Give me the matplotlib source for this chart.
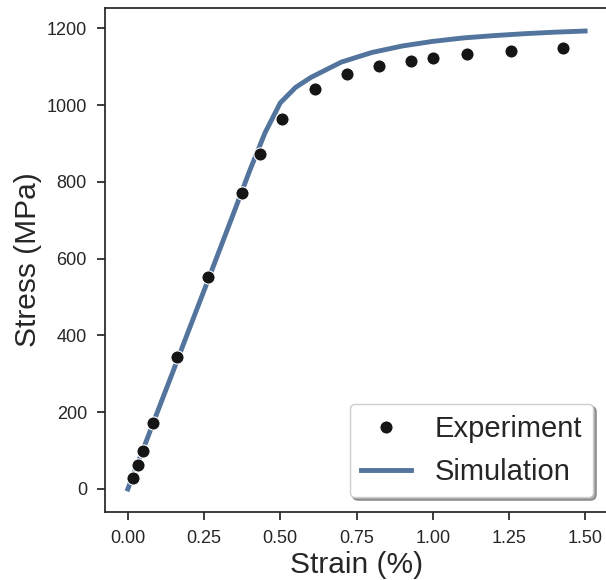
import matplotlib
matplotlib.use("Agg")
import matplotlib.pyplot as plt

plt.rcParams['font.family'] = ['Liberation Sans', 'DejaVu Sans']

# experimental points (strain %, stress MPa)
exp_strain = [0.017, 0.034, 0.050, 0.081, 0.161, 0.263, 0.376, 0.434, 0.505,
              0.614, 0.719, 0.823, 0.929, 1.001, 1.113, 1.256, 1.429]
exp_stress = [29, 63, 100, 171, 343, 551, 772, 872, 964,
              1042, 1081, 1102, 1116, 1123, 1134, 1141, 1148]

# simulation curve
sim_strain = [0.0, 0.05, 0.1, 0.15, 0.2, 0.25, 0.3, 0.35, 0.4, 0.45, 0.5,
              0.55, 0.6, 0.7, 0.8, 0.9, 1.0, 1.1, 1.2, 1.3, 1.4, 1.5]
sim_stress = [0, 103, 207, 310, 414, 517, 621, 725, 830, 928, 1006,
              1046, 1072, 1112, 1137, 1154, 1166, 1175, 1181, 1186, 1190, 1193]

dark = '#262626'

fig = plt.figure(figsize=(6.06, 5.8), dpi=100)
ax = fig.add_axes([105/606, 68/580, 503/606, 504/580])

ax.plot(exp_strain, exp_stress, 'o', color='#151515', markersize=9.5,
        markeredgecolor='white', markeredgewidth=0.8, label='Experiment', zorder=3)
ax.plot(sim_strain, sim_stress, '-', color='#52749d', linewidth=3.5,
        label='Simulation', zorder=2)

ax.set_xticks([0.0, 0.25, 0.5, 0.75, 1.0, 1.25, 1.5])
ax.set_yticks([0, 200, 400, 600, 800, 1000, 1200])
ax.set_xlim(-0.075, 1.575)
ax.set_ylim(-60, 1253)

for s in ax.spines.values():
    s.set_color(dark)
    s.set_linewidth(1.25)
ax.tick_params(direction='out', length=6, width=1.25, color=dark,
               labelcolor=dark, labelsize=13, pad=7)

ax.set_xlabel('Strain (%)', fontsize=21.5, color=dark, labelpad=3)
ax.set_ylabel('Stress (MPa)', fontsize=21.5, color=dark, labelpad=3)

leg = ax.legend(loc='lower right', fontsize=21, shadow=True, fancybox=True,
                handlelength=1.7, borderaxespad=0.5, framealpha=1)
leg.get_frame().set_edgecolor('#cccccc')
for t in leg.get_texts():
    t.set_color(dark)

plt.savefig('out.png', dpi=100)
